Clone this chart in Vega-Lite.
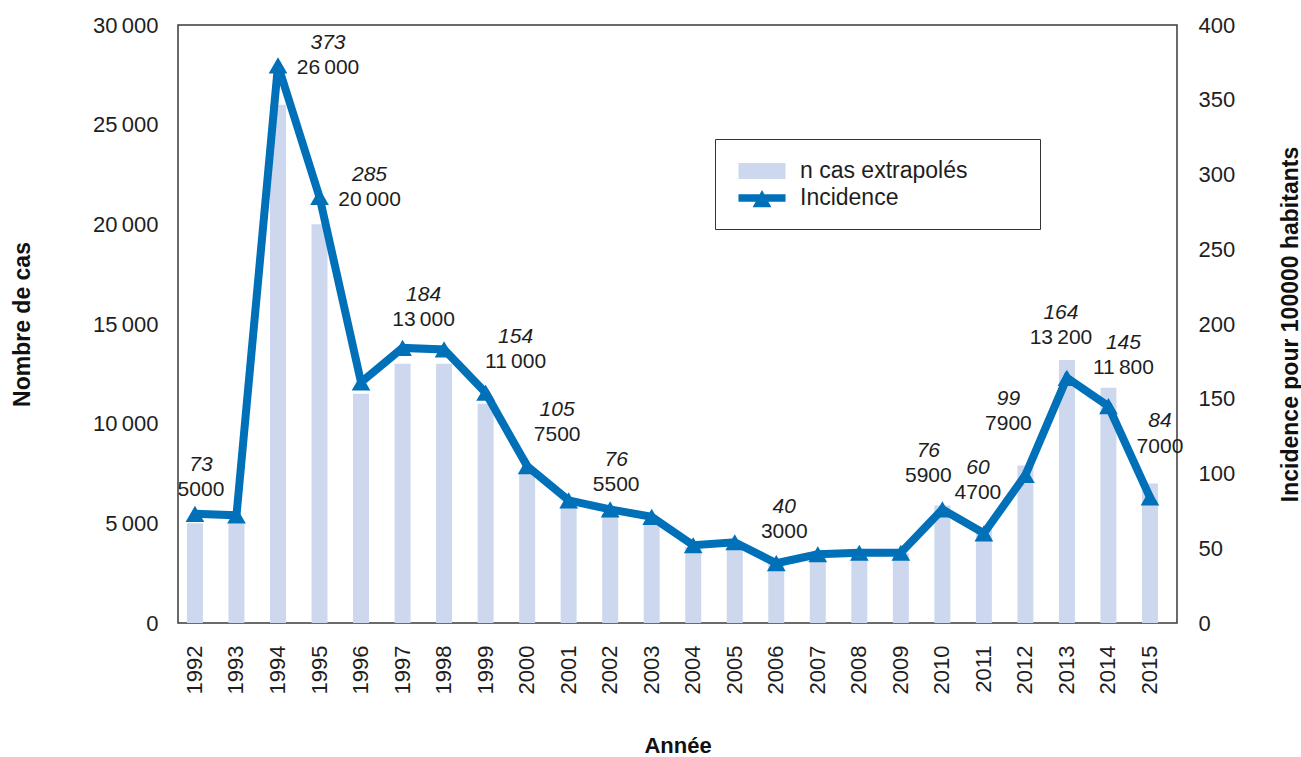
{
  "$schema": "https://vega.github.io/schema/vega-lite/v6.json",
  "width": 999,
  "height": 598,
  "autosize": {"type": "none"},
  "padding": {"left": 178, "top": 25, "right": 124, "bottom": 134},
  "background": "white",
  "config": {
    "view": {"stroke": "#3a3a3a", "strokeWidth": 1.5},
    "locale": {"number": {"decimal": ",", "thousands": "\u2009", "grouping": [3], "currency": ["", ""]}},
    "font": "Liberation Sans",
    "axis": {
      "labelFont": "Liberation Sans",
      "labelFontSize": 22,
      "labelColor": "#1e1e1e",
      "titleFont": "Liberation Sans",
      "titleFontSize": 23,
      "titleFontWeight": "bold",
      "titleColor": "#111111",
      "ticks": false,
      "domain": false,
      "grid": false
    },
    "text": {"font": "Liberation Sans", "fontSize": 21, "color": "#1e1e1e"}
  },
  "data": {
    "values": [
      {"annee": 1992, "cas": 5000, "incidence": 73},
      {"annee": 1993, "cas": 5000, "incidence": 72},
      {"annee": 1994, "cas": 26000, "incidence": 373},
      {"annee": 1995, "cas": 20000, "incidence": 285},
      {"annee": 1996, "cas": 11500, "incidence": 161},
      {"annee": 1997, "cas": 13000, "incidence": 184},
      {"annee": 1998, "cas": 13000, "incidence": 183},
      {"annee": 1999, "cas": 11000, "incidence": 154},
      {"annee": 2000, "cas": 7500, "incidence": 105},
      {"annee": 2001, "cas": 5800, "incidence": 82},
      {"annee": 2002, "cas": 5500, "incidence": 76},
      {"annee": 2003, "cas": 5100, "incidence": 71},
      {"annee": 2004, "cas": 3800, "incidence": 52},
      {"annee": 2005, "cas": 3900, "incidence": 54},
      {"annee": 2006, "cas": 3000, "incidence": 40},
      {"annee": 2007, "cas": 3400, "incidence": 46},
      {"annee": 2008, "cas": 3500, "incidence": 47},
      {"annee": 2009, "cas": 3500, "incidence": 47},
      {"annee": 2010, "cas": 5900, "incidence": 76},
      {"annee": 2011, "cas": 4700, "incidence": 60},
      {"annee": 2012, "cas": 7900, "incidence": 99},
      {"annee": 2013, "cas": 13200, "incidence": 164},
      {"annee": 2014, "cas": 11800, "incidence": 145},
      {"annee": 2015, "cas": 7000, "incidence": 84}
    ]
  },
  "layer": [
    {
      "mark": {"type": "bar"},
      "encoding": {
        "x": {
          "field": "annee",
          "type": "ordinal",
          "scale": {"paddingInner": 0.615, "paddingOuter": 0.337, "align": 0.32},
          "axis": {"title": "Année", "labelAngle": -90, "labelPadding": 22, "titleY": 122, "titleFontSize": 22, "titleBaseline": "middle"}
        },
        "y": {
          "field": "cas",
          "type": "quantitative",
          "scale": {"domain": [0, 30000], "nice": false},
          "axis": {
            "title": "Nombre de cas",
            "orient": "left",
            "values": [0, 5000, 10000, 15000, 20000, 25000, 30000],
            "format": ",d",
            "labelPadding": 20,
            "titleX": -156,
            "titleY": 299,
            "titleAngle": 270,
            "titleBaseline": "middle"
          }
        },
        "color": {
          "datum": "n cas extrapolés",
          "type": "nominal",
          "scale": {"domain": ["n cas extrapolés", "Incidence"], "range": ["#cdd8ee", "#0070b8"]},
          "legend": {
            "orient": "none",
            "legendX": 537,
            "legendY": 114,
            "title": "\u00a0",
            "titleOrient": "right",
            "titlePadding": 54,
            "titleFontSize": 8,
            "padding": 19,
            "strokeColor": "#333333",
            "fillColor": "white",
            "symbolSize": 676,
            "symbolOffset": 15,
            "labelOffset": 25,
            "labelFontSize": 23,
            "labelFont": "Liberation Sans",
            "labelColor": "#1e1e1e",
            "rowPadding": 2,
            "labelLimit": 400,
            "encode": {
              "symbols": {
                "update": {
                  "shape": {"signal": "datum.value === 'Incidence' ? 'M-1.81,-0.285L1.81,-0.285L1.81,0.285L-1.81,0.285Z M0,-0.615L0.72,0.715L-0.72,0.715Z' : 'M-1.81,-0.615L1.81,-0.615L1.81,0.615L-1.81,0.615Z'"},
                  "fill": {"signal": "datum.value === 'Incidence' ? '#0070b8' : '#cdd8ee'"},
                  "stroke": {"value": "transparent"},
                  "strokeWidth": {"value": 0},
                  "opacity": {"value": 1},
                  "size": {"value": 676}
                }
              }
            }
          }
        }
      }
    },
    {
      "encoding": {
        "x": {"field": "annee", "type": "ordinal"},
        "y": {
          "field": "incidence",
          "type": "quantitative",
          "scale": {"domain": [0, 400], "nice": false},
          "axis": {
            "title": "Incidence pour 100000 habitants",
            "orient": "right",
            "values": [0, 50, 100, 150, 200, 250, 300, 350, 400],
            "labelPadding": 21,
            "titleX": 113,
            "titleY": 299,
            "titleAngle": 270,
            "titleBaseline": "middle"
          }
        }
      },
      "layer": [
        {"mark": {"type": "line", "strokeWidth": 8, "strokeJoin": "miter"}, "encoding": {"color": {"datum": "Incidence", "type": "nominal"}}},
        {"mark": {"type": "point", "shape": "triangle-up", "filled": true, "size": 350, "opacity": 1}, "encoding": {"color": {"datum": "Incidence", "type": "nominal"}}},
        {
          "transform": [{"filter": {"field": "annee", "oneOf": [1992, 2002]}}],
          "layer": [
            {"mark": {"type": "text", "dx": 6, "dy": -49, "fontStyle": "italic"}, "encoding": {"text": {"field": "incidence", "type": "quantitative", "format": "d"}}},
            {"mark": {"type": "text", "dx": 6, "dy": -24}, "encoding": {"text": {"condition": {"test": "datum.cas >= 10000", "field": "cas", "type": "quantitative", "format": ",d"}, "field": "cas", "type": "quantitative", "format": "d"}}}
          ]
        },
        {
          "transform": [{"filter": {"field": "annee", "oneOf": [1997]}}],
          "layer": [
            {"mark": {"type": "text", "dx": 21, "dy": -53, "fontStyle": "italic"}, "encoding": {"text": {"field": "incidence", "type": "quantitative", "format": "d"}}},
            {"mark": {"type": "text", "dx": 21, "dy": -28}, "encoding": {"text": {"condition": {"test": "datum.cas >= 10000", "field": "cas", "type": "quantitative", "format": ",d"}, "field": "cas", "type": "quantitative", "format": "d"}}}
          ]
        },
        {
          "transform": [{"filter": {"field": "annee", "oneOf": [1999, 2000]}}],
          "layer": [
            {"mark": {"type": "text", "dx": 30, "dy": -56, "fontStyle": "italic"}, "encoding": {"text": {"field": "incidence", "type": "quantitative", "format": "d"}}},
            {"mark": {"type": "text", "dx": 30, "dy": -31}, "encoding": {"text": {"condition": {"test": "datum.cas >= 10000", "field": "cas", "type": "quantitative", "format": ",d"}, "field": "cas", "type": "quantitative", "format": "d"}}}
          ]
        },
        {
          "transform": [{"filter": {"field": "annee", "oneOf": [2006]}}],
          "layer": [
            {"mark": {"type": "text", "dx": 8, "dy": -56, "fontStyle": "italic"}, "encoding": {"text": {"field": "incidence", "type": "quantitative", "format": "d"}}},
            {"mark": {"type": "text", "dx": 8, "dy": -31}, "encoding": {"text": {"condition": {"test": "datum.cas >= 10000", "field": "cas", "type": "quantitative", "format": ",d"}, "field": "cas", "type": "quantitative", "format": "d"}}}
          ]
        },
        {
          "transform": [{"filter": {"field": "annee", "oneOf": [2010]}}],
          "layer": [
            {"mark": {"type": "text", "dx": -14, "dy": -58, "fontStyle": "italic"}, "encoding": {"text": {"field": "incidence", "type": "quantitative", "format": "d"}}},
            {"mark": {"type": "text", "dx": -14, "dy": -33}, "encoding": {"text": {"condition": {"test": "datum.cas >= 10000", "field": "cas", "type": "quantitative", "format": ",d"}, "field": "cas", "type": "quantitative", "format": "d"}}}
          ]
        },
        {
          "transform": [{"filter": {"field": "annee", "oneOf": [2011, 2013]}}],
          "layer": [
            {"mark": {"type": "text", "dx": -6, "dy": -65, "fontStyle": "italic"}, "encoding": {"text": {"field": "incidence", "type": "quantitative", "format": "d"}}},
            {"mark": {"type": "text", "dx": -6, "dy": -40}, "encoding": {"text": {"condition": {"test": "datum.cas >= 10000", "field": "cas", "type": "quantitative", "format": ",d"}, "field": "cas", "type": "quantitative", "format": "d"}}}
          ]
        },
        {
          "transform": [{"filter": {"field": "annee", "oneOf": [2014]}}],
          "layer": [
            {"mark": {"type": "text", "dx": 15, "dy": -63, "fontStyle": "italic"}, "encoding": {"text": {"field": "incidence", "type": "quantitative", "format": "d"}}},
            {"mark": {"type": "text", "dx": 15, "dy": -38}, "encoding": {"text": {"condition": {"test": "datum.cas >= 10000", "field": "cas", "type": "quantitative", "format": ",d"}, "field": "cas", "type": "quantitative", "format": "d"}}}
          ]
        },
        {
          "transform": [{"filter": {"field": "annee", "oneOf": [2012]}}],
          "layer": [
            {"mark": {"type": "text", "dx": -17, "dy": -76, "fontStyle": "italic"}, "encoding": {"text": {"field": "incidence", "type": "quantitative", "format": "d"}}},
            {"mark": {"type": "text", "dx": -17, "dy": -51}, "encoding": {"text": {"condition": {"test": "datum.cas >= 10000", "field": "cas", "type": "quantitative", "format": ",d"}, "field": "cas", "type": "quantitative", "format": "d"}}}
          ]
        },
        {
          "transform": [{"filter": {"field": "annee", "oneOf": [2015]}}],
          "layer": [
            {"mark": {"type": "text", "dx": 10, "dy": -76, "fontStyle": "italic"}, "encoding": {"text": {"field": "incidence", "type": "quantitative", "format": "d"}}},
            {"mark": {"type": "text", "dx": 10, "dy": -50}, "encoding": {"text": {"condition": {"test": "datum.cas >= 10000", "field": "cas", "type": "quantitative", "format": ",d"}, "field": "cas", "type": "quantitative", "format": "d"}}}
          ]
        },
        {
          "transform": [{"filter": {"field": "annee", "oneOf": [1994, 1995]}}],
          "layer": [
            {"mark": {"type": "text", "dx": 50, "dy": -22, "fontStyle": "italic"}, "encoding": {"text": {"field": "incidence", "type": "quantitative", "format": "d"}}},
            {"mark": {"type": "text", "dx": 50, "dy": 3}, "encoding": {"text": {"condition": {"test": "datum.cas >= 10000", "field": "cas", "type": "quantitative", "format": ",d"}, "field": "cas", "type": "quantitative", "format": "d"}}}
          ]
        }
      ]
    }
  ],
  "resolve": {"scale": {"y": "independent"}}
}
